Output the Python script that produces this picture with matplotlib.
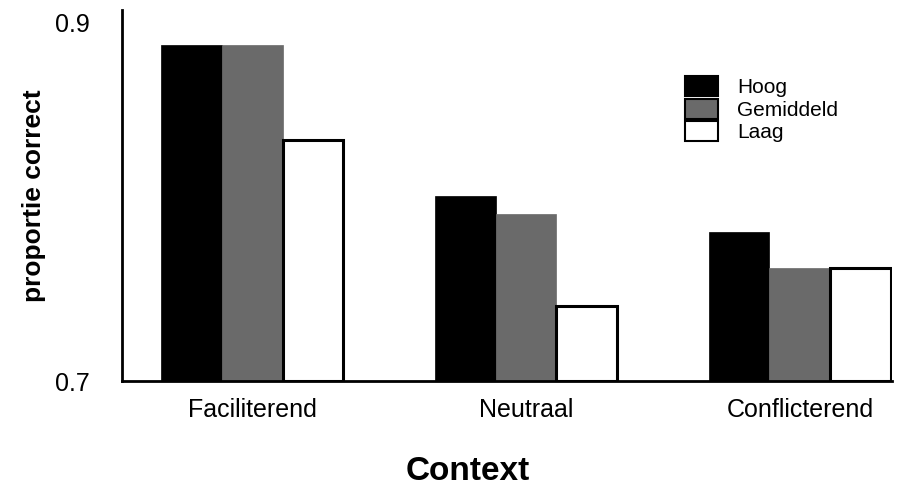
import numpy as np
import matplotlib
matplotlib.use("Agg")
import matplotlib.pyplot as plt
from matplotlib.patches import Patch

plt.rcParams['font.family'] = ['Liberation Sans', 'DejaVu Sans']

# data
contexts = ["Faciliterend", "Neutraal", "Conflicterend"]
levels = ["Hoog", "Gemiddeld", "Laag"]
hoog = [0.887, 0.803, 0.783]
gemiddeld = [0.887, 0.793, 0.763]
laag = [0.834, 0.742, 0.763]

colors = ['#000000', '#6a6a6a', '#ffffff']
edges = ['#000000', '#6a6a6a', '#000000']

px = 1/100
fig = plt.figure(figsize=(899*px, 490*px), dpi=100)
ax = fig.add_axes([0.1357, 0.2224, 0.856, 0.7572])

x = np.arange(len(contexts))
w = 0.222
for i, vals in enumerate([hoog, gemiddeld, laag]):
    ax.bar(x + (i-1)*w, np.array(vals) - 0.7, width=w, bottom=0.7,
           color=colors[i], edgecolor=edges[i], linewidth=2.2 if i == 2 else 0.5, zorder=2)

ax.set_ylim(0.7, 0.9067)
ax.set_xlim(-0.476, 2.335)
ax.set_yticks([0.7, 0.9])
ax.set_yticklabels(["0.7", "0.9"], fontsize=18)
ax.set_xticks(x)
ax.set_xticklabels(contexts, fontsize=18)
ax.tick_params(axis='both', length=0)
ax.tick_params(axis='y', pad=23)
ax.tick_params(axis='x', pad=12)

for s in ['top', 'right']:
    ax.spines[s].set_visible(False)
for s in ['left', 'bottom']:
    ax.spines[s].set_linewidth(2)

ax.set_ylabel("proportie correct", fontsize=19, fontweight='bold', labelpad=7)
ax.set_xlabel("Context", fontsize=24, fontweight='bold')
# the x title sits left of the axes centre in the original
ax.xaxis.set_label_coords(0.449, -0.203)

handles = [Patch(facecolor=colors[i], edgecolor='black', linewidth=1.5) for i in range(3)]
ax.legend(handles, levels, loc='upper left', bbox_to_anchor=(0.731, 0.822), frameon=False,
          fontsize=15, handlelength=1.6, handleheight=1.1, labelspacing=0.07,
          handletextpad=0.93, borderpad=0, borderaxespad=0)

fig.savefig("out.png", dpi=100)
